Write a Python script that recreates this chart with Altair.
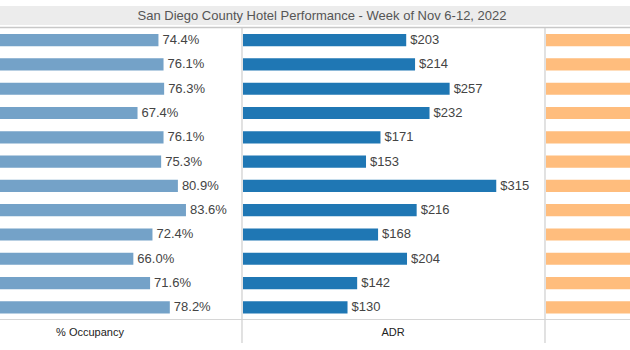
import altair as alt
import pandas as pd

# ---- data ----
rows = [f"Row {i:02d}" for i in range(1, 13)]
occupancy = [74.4, 76.1, 76.3, 67.4, 76.1, 75.3, 80.9, 83.6, 72.4, 66.0, 71.6, 78.2]
adr = [203, 214, 257, 232, 171, 153, 315, 216, 168, 204, 142, 130]
revpar = [151, 163, 196, 156, 130, 115, 255, 181, 122, 135, 102, 102]
title_text = "San Diego County Hotel Performance - Week of Nov 6-12, 2022"
panel_labels = ["% Occupancy", "ADR"]

df = pd.DataFrame({
    "row": rows,
    "occ": occupancy,
    "adr": adr,
    "revpar": revpar,
})
df["occ_label"] = [f"{v:.1f}%" for v in occupancy]
df["adr_label"] = [f"${v}" for v in adr]

W, H = 630, 350
FONT = "Liberation Sans"

yenc = alt.Y("row:N", sort=rows, axis=None,
             scale=alt.Scale(range=[28, 319.5], paddingInner=0.5, paddingOuter=0.25))

one = pd.DataFrame({"k": [0]})

header_bg = alt.Chart(one).mark_rect(color="#ececec").encode(
    x=alt.value(0), x2=alt.value(W), y=alt.value(6), y2=alt.value(25))
header_line = alt.Chart(one).mark_rule(color="#c8c8c8", strokeWidth=1.5).encode(
    x=alt.value(0), x2=alt.value(W), y=alt.value(27.5))
header_text = alt.Chart(pd.DataFrame({"t": [title_text]})).mark_text(
    font=FONT, fontSize=13, color="#555555", align="center", baseline="middle"
).encode(x=alt.value(322), y=alt.value(15.5), text="t:N")

bottom_line = alt.Chart(one).mark_rule(color="#d6d6d6", strokeWidth=1.2).encode(
    x=alt.value(0), x2=alt.value(W), y=alt.value(319.5))
div1 = alt.Chart(one).mark_rule(color="#d2d2d2", strokeWidth=1.3).encode(
    x=alt.value(242), y=alt.value(28), y2=alt.value(343))
div2 = alt.Chart(one).mark_rule(color="#d2d2d2", strokeWidth=1.3).encode(
    x=alt.value(545), y=alt.value(28), y2=alt.value(343))

lab_df = pd.DataFrame({"t": panel_labels, "px": [90, 393]})
bottom_labels = alt.Chart(lab_df).mark_text(
    font=FONT, fontSize=11, color="#222222", align="center", baseline="middle"
).encode(x=alt.X("px:Q", axis=None, scale=alt.Scale(domain=[0, W], range=[0, W])),
         y=alt.value(333), text="t:N")

xs_occ = alt.Scale(domain=[0, 100], range=[-64, 235])
xs_adr = alt.Scale(domain=[0, 400], range=[243, 564.6])
xs_rev = alt.Scale(domain=[0, 300], range=[546, 850])

base = alt.Chart(df)
occ_bars = base.mark_bar(color="#74a2c8", clip=True).encode(
    x=alt.X("occ:Q", axis=None, scale=xs_occ), y=yenc)
occ_text = base.mark_text(font=FONT, fontSize=13, color="#444444", align="left",
                          baseline="middle", dx=4).encode(
    x=alt.X("occ:Q", axis=None, scale=xs_occ), y=yenc, text="occ_label:N")
adr_bars = base.mark_bar(color="#1f77b4", clip=True).encode(
    x=alt.X("adr:Q", axis=None, scale=xs_adr), y=yenc)
adr_text = base.mark_text(font=FONT, fontSize=13, color="#444444", align="left",
                          baseline="middle", dx=4).encode(
    x=alt.X("adr:Q", axis=None, scale=xs_adr), y=yenc, text="adr_label:N")
rev_bars = base.mark_bar(color="#ffbd7d", clip=True).encode(
    x=alt.X("revpar:Q", axis=None, scale=xs_rev), y=yenc)

chart = alt.layer(
    header_bg, header_line, header_text,
    occ_bars, occ_text, adr_bars, adr_text, rev_bars,
    bottom_line, div1, div2, bottom_labels,
).resolve_scale(x="independent", y="independent").properties(
    width=W, height=H, autosize=alt.AutoSizeParams(type="none"), padding=0
).configure_view(stroke=None)

chart.save("out.html", embed_options={"renderer": "svg", "actions": False})
